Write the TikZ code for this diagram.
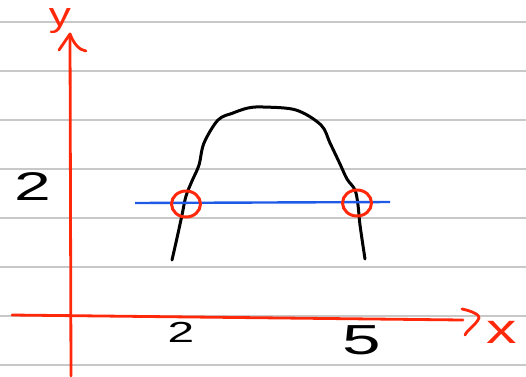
\documentclass[tikz,border=0pt]{standalone}
\usepackage{fontspec}
\setmainfont{Liberation Sans}
\usetikzlibrary{shapes.geometric}
\definecolor{penred}{RGB}{255,40,10}
\definecolor{penblue}{RGB}{30,90,230}
\definecolor{rule}{RGB}{200,200,200}
\begin{document}
\begin{tikzpicture}[x=1pt,y=-1pt,
  ruleline/.style={draw=rule,line width=1.4pt},
  axis/.style={draw=penred,line width=2.8pt,line cap=round,line join=round},
  curve/.style={draw=black,line width=3pt,line cap=round,line join=round},
  hline/.style={draw=penblue,line width=2.4pt},
  ring/.style={ellipse,draw=penred,line width=3pt,minimum width=29pt,minimum height=26pt,inner sep=0pt},
  lbl/.style={inner sep=0pt},
  redlbl/.style={lbl,text=penred}]
\useasboundingbox (0,0) rectangle (526,376);
% lined paper
\foreach \yy in {22,71,120,169,218,267,316,365}
  \draw[ruleline] (0,\yy) -- (526,\yy);
% axes
\coordinate (yb) at (71,376);
\coordinate (yt) at (70,34);
\coordinate (xl) at (12,315);
\coordinate (xr) at (463,320);
\draw[axis] (yb) -- (yt);
\draw[axis] (59,50) -- (yt) .. controls (74,44) and (79,50) .. (86,51);
\draw[axis] (xl) -- (xr);
\draw[axis] (462,309) .. controls (472,311) and (480,315) .. (479,318) .. controls (476,325) and (467,330) .. (465,335);
% labels
\node[redlbl,font=\fontsize{34}{34}\selectfont,xscale=1.3] (ylab) at (60,21) {y};
\node[redlbl,font=\fontsize{42}{42}\selectfont,xscale=1.45] (xlab) at (502,332) {x};
\node[lbl,font=\fontsize{40}{40}\selectfont,xscale=1.65] (two) at (33,187) {2};
\node[lbl,font=\fontsize{29}{29}\selectfont,xscale=1.65] (twox) at (181,332) {2};
\node[lbl,font=\fontsize{42}{42}\selectfont,xscale=1.65] (five) at (362,340) {5};
% curve
\draw[curve] plot[smooth,tension=0.55] coordinates {(172,260) (177,238) (182,215) (186,196) (192,181) (199,165) (204,143) (218,120) (233,113) (248,108) (263,107) (296,110) (321,125) (330,143) (340,164) (347,179) (355,190) (358,205) (360,225) (365,259)};
% horizontal line
\coordinate (hl) at (135,203);
\coordinate (hr) at (390,202);
\draw[hline] (hl) -- (hr);
% circles
\node[ring] (c1) at (186,204) {};
\node[ring] (c2) at (357,203) {};
\end{tikzpicture}
\end{document}
